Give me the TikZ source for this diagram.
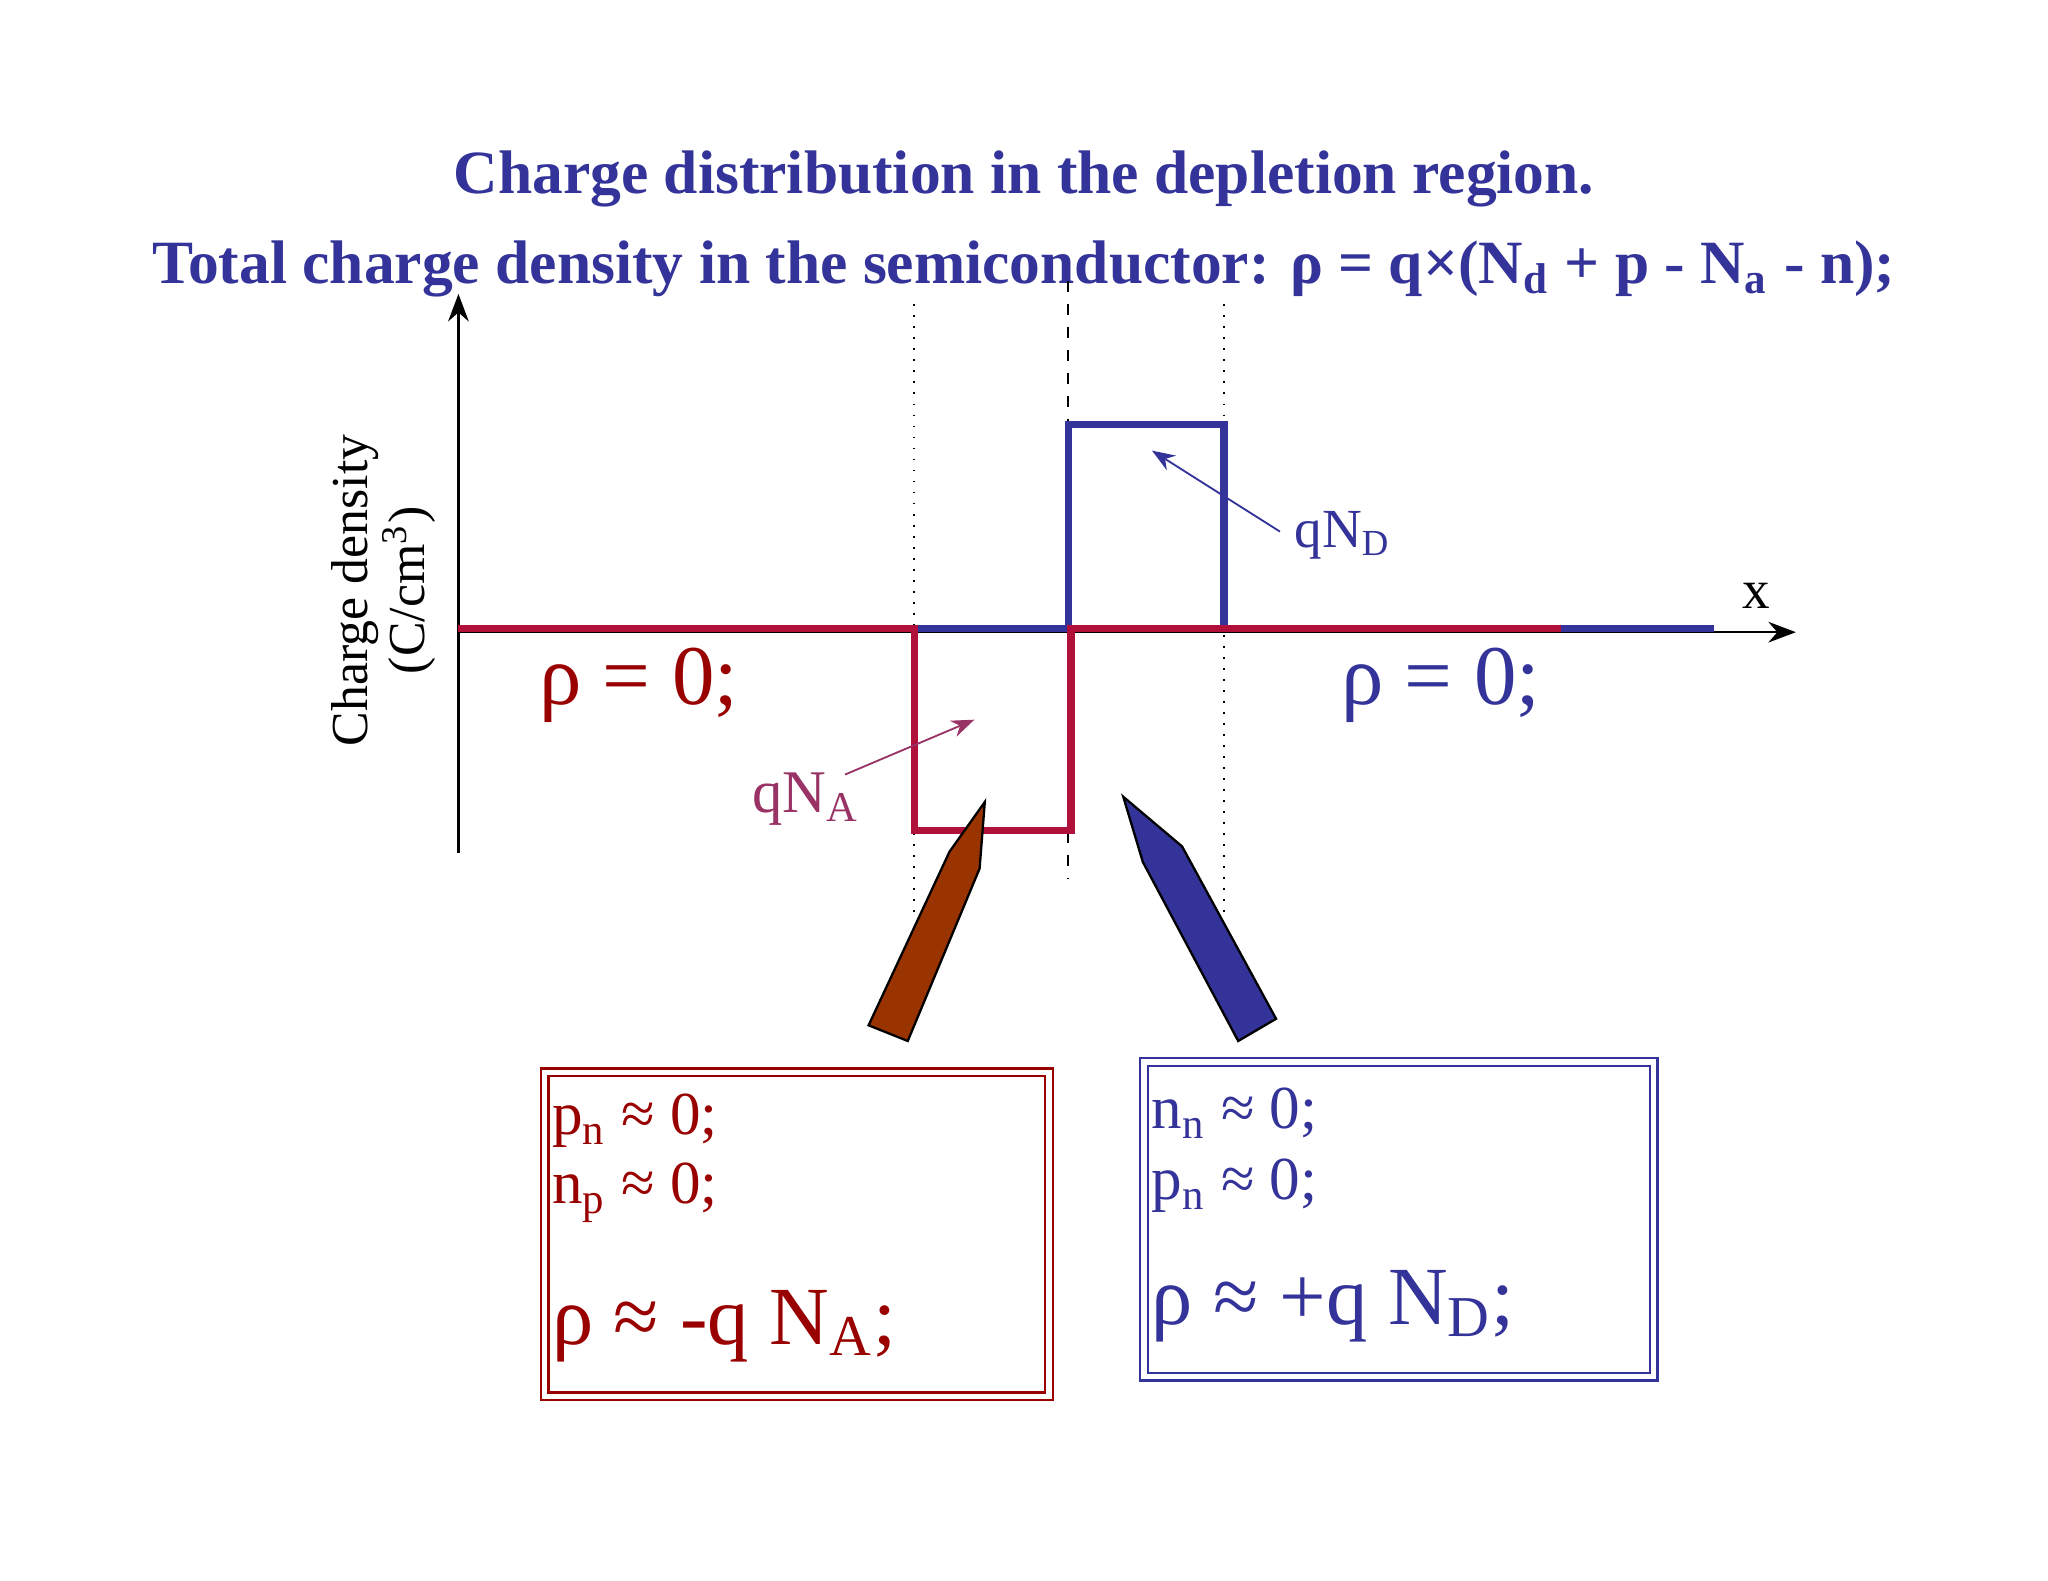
\documentclass[tikz,border=0pt]{standalone}
\usepackage{fontspec}
\setmainfont{Liberation Serif}
\usetikzlibrary{arrows.meta}
\definecolor{tblue}{HTML}{333399}
\definecolor{tred}{HTML}{B0103A}
\definecolor{dred}{HTML}{990000}
\definecolor{tpurp}{HTML}{993366}
\definecolor{tbrown}{HTML}{993300}
\begin{document}
\begin{tikzpicture}[x=0.1mm,y=-0.1mm,
  ttl/.style={font=\fontsize{13.4}{15}\selectfont\bfseries,text=tblue},
  axisln/.style={line width=0.5pt,-{Stealth[length=6pt]}},
  redln/.style={tred,line width=1.6pt},
  blueln/.style={tblue,line width=1.6pt},
  bigtxt/.style={font=\fontsize{18.5}{21}\selectfont},
  boxtxt/.style={font=\fontsize{13.3}{16}\selectfont,anchor=west,inner sep=0pt},
  boxbig/.style={font=\fontsize{18}{21}\selectfont,anchor=west,inner sep=0pt},
  dbox/.style={double,double distance=1.2pt,line width=0.5pt}]
\useasboundingbox (0,0) rectangle (1568,1210);
\fill[white] (0,0) rectangle (1568,1210);
\node[ttl] (t1) at (784,137) {Charge distribution in the depletion region.};
\node[ttl] (t2) at (784,206) {Total charge density in the semiconductor: ρ = q×(N\textsubscript{d} + p - N\textsubscript{a} - n);};
% guide lines
\draw[dotted,thin] (700,233) -- (700,700);
\draw[dotted,thin] (937,233) -- (937,700);
\draw[dash pattern=on 2.5pt off 2.5pt,thin] (818,215) -- (818,673);
% axes
\coordinate (o) at (351,484);
\coordinate (ytop) at (351,225);
\coordinate (ybot) at (351,653);
\coordinate (xend) at (1375,484);
\draw[axisln] (ybot) -- (ytop);
\draw[axisln] (o) -- (xend);
\node (xl) at (1345,456) {\fontsize{12}{14}\selectfont x};
% curves
\draw[blueln] (700,481) -- (818,481);
\draw[blueln] (818,481) -- (818,325) -- (937,325) -- (937,481);
\draw[blueln] (1195,481) -- (1312,481);
\draw[redln] (351,481) -- (700,481) -- (700,636) -- (820,636) -- (820,481) -- (1195,481);
% y label
\node[rotate=90,font=\fontsize{11.3}{14}\selectfont] (yl1) at (272,452) {Charge density};
\node[rotate=90,font=\fontsize{11.3}{14}\selectfont] (yl2) at (313,452) {(C/cm\textsuperscript{3})};
% labels
\node[text=tblue,font=\fontsize{12}{14}\selectfont] (qnd) at (1028,410) {qN\textsubscript{D}};
\coordinate (qndt) at (882,345);
\draw[tblue,-{Stealth[length=5pt]}] (980,407) -- (qndt);
\node[text=tpurp,font=\fontsize{13.2}{16}\selectfont] (qna) at (617,612) {qN\textsubscript{A}};
\coordinate (qnat) at (746,551);
\draw[tpurp,-{Stealth[length=5pt]}] (647,593) -- (qnat);
\node[bigtxt,text=dred] (r1) at (489,525) {ρ = 0;};
\node[bigtxt,text=tblue] (r2) at (1103,525) {ρ = 0;};
% pencils
\filldraw[fill=tbrown,draw=black,line width=0.5pt] (665,785) -- (727,652) -- (754,614) -- (750,665) -- (695,797) -- cycle;
\filldraw[fill=tblue,draw=black,line width=0.5pt] (860,610) -- (875,660) -- (948,797) -- (977,780) -- (905,648) -- cycle;
% boxes
\draw[dred,dbox] (417,821) rectangle (803,1069);
\draw[tblue,dbox] (876,813) rectangle (1266,1054);
\node[boxtxt,text=dred] (a1) at (422,858) {p\textsubscript{n} ≈ 0;};
\node[boxtxt,text=dred] (a2) at (422,913) {n\textsubscript{p} ≈ 0;};
\node[boxbig,text=dred] (a3) at (422,1015) {ρ ≈ -q N\textsubscript{A};};
\node[boxtxt,text=tblue] (b1) at (881,852) {n\textsubscript{n} ≈ 0;};
\node[boxtxt,text=tblue] (b2) at (881,908) {p\textsubscript{n} ≈ 0;};
\node[boxbig,text=tblue] (b3) at (881,1000) {ρ ≈ +q N\textsubscript{D};};
\end{tikzpicture}
\end{document}
